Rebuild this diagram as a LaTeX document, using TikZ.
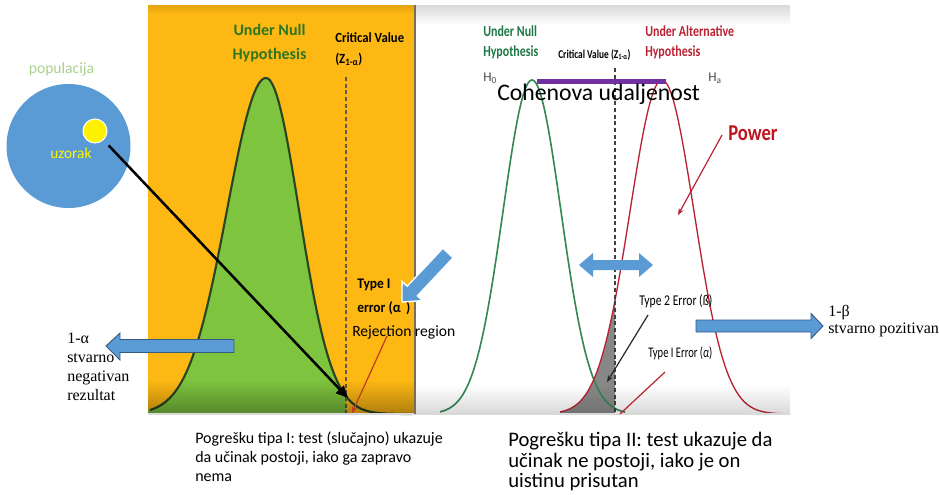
\documentclass[tikz,border=0pt]{standalone}
\usepackage{fontspec}
\newfontfamily\carl{Carlito}
\newfontfamily\tms{Liberation Serif}
\usetikzlibrary{arrows.meta,fadings}
\definecolor{panelor}{RGB}{253,184,19}
\definecolor{lgreen}{RGB}{126,196,62}
\definecolor{curvedark}{RGB}{40,70,35}
\definecolor{titlegreen}{RGB}{46,117,32}
\definecolor{rgreen}{RGB}{30,120,70}
\definecolor{rgreenline}{RGB}{50,135,85}
\definecolor{rred}{RGB}{185,35,50}
\definecolor{powred}{RGB}{190,20,30}
\definecolor{arrblue}{RGB}{91,155,213}
\definecolor{arrblueline}{RGB}{55,90,130}
\definecolor{cpurple}{RGB}{112,48,160}
\definecolor{popgreen}{RGB}{169,209,142}
\definecolor{leftred}{RGB}{190,60,30}
\definecolor{errgray}{RGB}{135,135,135}
\definecolor{sepcol}{RGB}{120,110,90}
\newcommand{\cnd}[2]{\scalebox{#1}[1]{#2}}
\newcommand{\fs}[1]{\fontsize{#1}{#1}\selectfont}
\begin{document}
\begin{tikzpicture}[x=0.75pt,y=-0.75pt,
  txt/.style={inner sep=0pt,anchor=base west},
  ctxt/.style={inner sep=0pt,anchor=base},
  bluearr/.style={fill=arrblue,draw=arrblueline,line width=0.7pt,line join=miter},
  redarr/.style={line width=0.9pt,-{Stealth[length=5pt,width=4pt]}},
  blkarrow/.style={line width=1.9pt,-{Triangle[length=9pt,width=8pt]}}]
\useasboundingbox (0,0) rectangle (939,494);
\fill[white] (0,0) rectangle (939,494);
% panels
\fill[panelor] (148,5) rectangle (415,414);
\fill[white] (415,5) rectangle (790,414);
% left curve
\fill[lgreen] (148,414) -- plot[domain=148:266,samples=60] (\x,{414-336*exp(-0.5*((\x-266)/39)*((\x-266)/39))})
  -- plot[domain=266:346,samples=50] (\x,{414-336*exp(-0.5*((\x-266)/33)*((\x-266)/33))}) -- (346,414) -- cycle;
\draw[curvedark,line width=1.6pt] plot[domain=150:266,samples=60] (\x,{414-336*exp(-0.5*((\x-266)/39)*((\x-266)/39))})
  -- plot[domain=266:412,samples=70] (\x,{414-336*exp(-0.5*((\x-266)/33)*((\x-266)/33))});
\draw[sepcol!80!black,line width=1pt,dash pattern=on 3pt off 2pt] (346,77) -- (346,414);
% right curves
\fill[errgray] (560,414) -- plot[domain=560:615,samples=40] (\x,{414-334*exp(-0.5*((\x-662)/32)*((\x-662)/32))}) -- (615,414) -- cycle;
\draw[rgreenline,line width=1.2pt] plot[domain=440:625,samples=90] (\x,{414-334*exp(-0.5*((\x-532)/29)*((\x-532)/29))});
\draw[rred,line width=1pt] plot[domain=560:790,samples=100] (\x,{414-334*exp(-0.5*((\x-662)/32)*((\x-662)/32))});
\draw[black!75,line width=0.8pt,dash pattern=on 3pt off 2pt] (615,68) -- (615,414);
% shadows
\fill[black,opacity=0.3,path fading=north] (148,380) rectangle (415,413);
\fill[black,opacity=0.15,path fading=north] (415,385) rectangle (790,413);
\fill[black,opacity=0.15,path fading=south] (415,5) rectangle (790,25);
\fill[black,opacity=0.1,path fading=south] (148,5) rectangle (415,14);
\draw[black!15,line width=1.5pt] (148,414) -- (790,414);
\draw[sepcol,line width=1.5pt] (415,5) -- (415,414);
% purple bar
\draw[cpurple,line width=4pt] (537,81.5) -- (666,81.5);
% left panel texts
\node[ctxt,font={\carl\bfseries\fs{12}},text=titlegreen] (lt1) at (269.5,35) {Under Null};
\node[ctxt,font={\carl\bfseries\fs{12}},text=titlegreen] (lt2) at (269.5,59) {Hypothesis};
\node[txt,font={\carl\bfseries\fs{10.5}}] (lc1) at (335,42) {\cnd{0.91}{Critical Value}};
\node[txt,font={\carl\bfseries\fs{10.5}}] (lc2) at (335,63) {\cnd{0.91}{(Z\textsubscript{1-α})}};
\node[txt,font={\carl\bfseries\fs{11}}] (te1) at (357,288) {\cnd{0.92}{Type I}};
\node[txt,font={\carl\bfseries\fs{11}}] (te2) at (357,312) {\cnd{0.92}{error (α\ \,)}};
\node[txt,font={\carl\fs{11.7}}] (rej) at (352,336) {Rejection region};
% right panel texts
\node[txt,font={\carl\bfseries\fs{11.5}},text=rgreen] (rn1) at (483,36.5) {\cnd{0.78}{Under Null}};
\node[txt,font={\carl\bfseries\fs{11.5}},text=rgreen] (rn2) at (483,56.7) {\cnd{0.78}{Hypothesis}};
\node[txt,font={\carl\bfseries\fs{9}}] (rcv) at (558,58) {\cnd{0.78}{Critical Value (Z\textsubscript{1-α})}};
\node[txt,font={\carl\bfseries\fs{11.5}},text=rred] (ra1) at (645,36.5) {\cnd{0.78}{Under Alternative}};
\node[txt,font={\carl\bfseries\fs{11.5}},text=rred] (ra2) at (645,56.7) {\cnd{0.78}{Hypothesis}};
\node[txt,font={\carl\fs{10}},text=black!70] (h0) at (483,81) {H\textsubscript{0}};
\node[txt,font={\carl\fs{10}},text=black!70] (ha) at (708,81) {H\textsubscript{a}};
\node[txt,font={\carl\fs{17.8}}] (coh) at (497,100) {Cohenova udaljenost};
\node[txt,font={\carl\bfseries\fs{17}},text=powred] (pow) at (728,140) {\cnd{0.82}{Power}};
\node[txt,font={\carl\fs{11.2}}] (t2e) at (639,305) {\cnd{0.78}{Type 2 Error (ß)}};
\node[txt,font={\carl\fs{11}}] (t1e) at (648,357) {\cnd{0.72}{Type I Error (\textit{α})}};
% population
\node[circle,fill=arrblue,minimum size=93pt,inner sep=0pt] (pop) at (68.5,146) {};
\node[ctxt,font={\carl\fs{11.7}},text=popgreen] (popl) at (61.5,73) {populacija};
\node[circle,fill=yellow,draw=white,line width=0.8pt,minimum size=18pt,inner sep=0pt] (uz) at (95,131) {};
\node[txt,font={\carl\fs{11.5}},text=yellow] (uzl) at (50,158) {uzorak};
% side labels
\node[txt,font={\tms\fs{12}}] (l1) at (67,343) {1-α};
\node[txt,font={\tms\fs{12}}] (l2) at (67,362) {stvarno};
\node[txt,font={\tms\fs{12}}] (l3) at (67,381) {negativan};
\node[txt,font={\tms\fs{12}}] (l4) at (67,400) {rezultat};
\node[txt,font={\tms\fs{12}}] (r1) at (828,316) {1-β};
\node[txt,font={\tms\fs{12}}] (r2) at (828,333) {stvarno pozitivan};
% bottom texts
\node[txt,font={\carl\fs{12}}] (b1) at (195,443) {Pogrešku tipa I: test (slučajno) ukazuje};
\node[txt,font={\carl\fs{12}}] (b2) at (195,462) {da učinak postoji, iako ga zapravo};
\node[txt,font={\carl\fs{12}}] (b3) at (195,481) {nema};
\node[txt,font={\carl\fs{15.5}}] (c1) at (508,446) {Pogrešku tipa II: test ukazuje da};
\node[txt,font={\carl\fs{15.5}}] (c2) at (508,467) {učinak ne postoji, iako je on};
\node[txt,font={\carl\fs{15.5}}] (c3) at (508,487) {uistinu prisutan};
% connectors
\coordinate (t1) at (348,398);
\draw[blkarrow,shorten <=5.5pt] (uz) -- (t1);
\coordinate (rs1) at (387,336);
\coordinate (re1) at (352,413);
\draw[redarr,leftred] (rs1) -- (re1);
\coordinate (ps) at (722,135);
\coordinate (pe) at (678,215);
\draw[redarr,rred] (ps) -- (pe);
\coordinate (ts) at (648,315);
\coordinate (te) at (607,382);
\draw[redarr,black!85] (ts) -- (te);
\coordinate (es) at (665,372);
\coordinate (ee) at (620,414);
\draw[rred,line width=0.9pt] (es) -- (ee);
% blue block arrows
\draw[bluearr] (106,346) -- (120,333) -- (120,339.5) -- (234,339.5) -- (234,352.5) -- (120,352.5) -- (120,360) -- cycle;
\draw[bluearr] (823,326) -- (811,313.5) -- (811,320) -- (696,320) -- (696,332) -- (811,332) -- (811,338.5) -- cycle;
\fill[arrblue] (579,265) -- (593,253) -- (593,260) -- (639,260) -- (639,253) -- (653,265) -- (639,277) -- (639,270) -- (593,270) -- (593,277) -- cycle;
\draw[fill=arrblue,draw=white,line width=1pt,line join=miter] (402,302) -- (422.5,300.6) -- (417.4,295.8) -- (453.1,257.8) -- (442.9,248.2) -- (407.2,286.2) -- (402.1,281.4) -- cycle;
\end{tikzpicture}
\end{document}
